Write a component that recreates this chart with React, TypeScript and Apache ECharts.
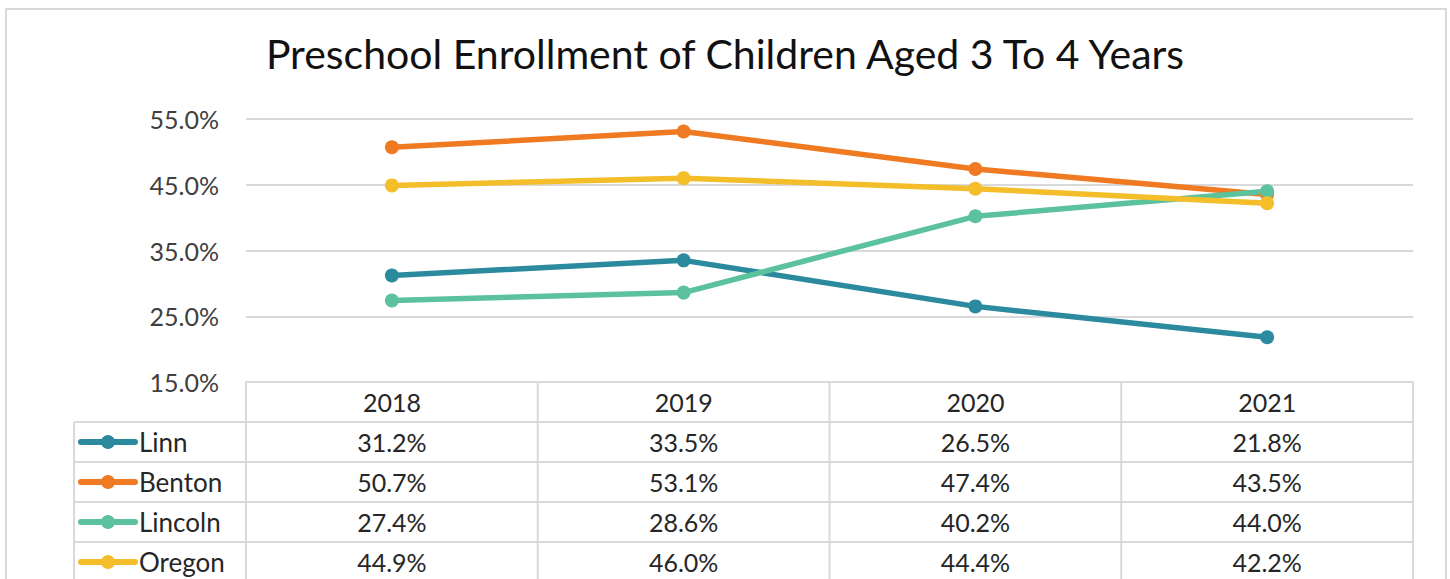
import React, { useEffect, useRef } from "react";
import * as echarts from "echarts";

const TITLE = "Preschool Enrollment of Children Aged 3 To 4 Years";
const YEARS = ["2018", "2019", "2020", "2021"];
const SERIES_NAMES = ["Linn", "Benton", "Lincoln", "Oregon"];
const LINN = [31.2, 33.5, 26.5, 21.8];
const BENTON = [50.7, 53.1, 47.4, 43.5];
const LINCOLN = [27.4, 28.6, 40.2, 44.0];
const OREGON = [44.9, 46.0, 44.4, 42.2];
const Y_MIN = 15;
const Y_MAX = 55;
const Y_STEP = 10;

const COLORS = ["#2B8A9E", "#F07A22", "#5CC29E", "#F4BE2A"];
const FONT = "Lato";

export default function App() {
  const ref = useRef<HTMLDivElement>(null);
  useEffect(() => {
    if (!ref.current) return;
    const W = 1450, H = 579;
    const chart = echarts.init(ref.current, undefined, { renderer: "svg", width: W, height: H });
    const gl = 246, gr = 1413, gt = 119, gb = 382;
    const values = [LINN, BENTON, LINCOLN, OREGON];
    const colW = (gr - gl) / YEARS.length;
    const headH = 40;
    const rowH = 40;
    const legL = 74;
    const lineColor = "#d9d9d9";
    const graphics: any[] = [];
    graphics.push({ type: "rect", shape: { x: 6, y: 9, width: 1440, height: 620 }, style: { fill: "none", stroke: lineColor, lineWidth: 2 }, silent: true });
    for (let i = 0; i <= YEARS.length; i++) {
      const x = gl + i * colW;
      graphics.push({ type: "line", shape: { x1: x, y1: gb, x2: x, y2: H + 20 }, style: { stroke: lineColor, lineWidth: 2 } });
    }
    graphics.push({ type: "line", shape: { x1: legL, y1: gb + headH, x2: legL, y2: H + 20 }, style: { stroke: lineColor, lineWidth: 2 } });
    for (let r = 0; r < SERIES_NAMES.length; r++) {
      const y = gb + headH + r * rowH;
      graphics.push({ type: "line", shape: { x1: legL, y1: y, x2: gr, y2: y }, style: { stroke: lineColor, lineWidth: 2 } });
      const cy = y + rowH / 2;
      graphics.push({ type: "line", shape: { x1: 81, y1: cy, x2: 135, y2: cy }, style: { stroke: COLORS[r], lineWidth: 6, lineCap: "round" } });
      graphics.push({ type: "circle", shape: { cx: 108, cy, r: 7 }, style: { fill: COLORS[r] } });
      graphics.push({ type: "text", x: 139, y: cy, style: { text: SERIES_NAMES[r], font: `26px ${FONT}`, fill: "#262626", textVerticalAlign: "middle", textAlign: "left" } });
      for (let c = 0; c < YEARS.length; c++) {
        graphics.push({ type: "text", x: gl + (c + 0.5) * colW, y: cy, style: { text: values[r][c].toFixed(1) + "%", font: `25px ${FONT}`, fill: "#262626", textVerticalAlign: "middle", textAlign: "center" } });
      }
    }
    chart.setOption({
      animation: false,
      backgroundColor: "#fff",
      title: {
        text: TITLE,
        left: "center",
        top: 28,
        textStyle: { fontFamily: FONT, fontSize: 41, fontWeight: "normal", color: "#111" },
      },
      grid: { left: gl, right: W - gr, top: gt, bottom: H - gb },
      xAxis: {
        type: "category",
        data: YEARS,
        boundaryGap: true,
        axisLine: { show: true, lineStyle: { color: lineColor, width: 2 } },
        axisTick: { show: false },
        axisLabel: { margin: 20, verticalAlign: "middle", fontFamily: FONT, fontSize: 25, color: "#262626", lineHeight: 25 },
      },
      yAxis: {
        type: "value",
        min: Y_MIN,
        max: Y_MAX,
        interval: Y_STEP,
        axisLine: { show: false },
        axisTick: { show: false },
        splitLine: { lineStyle: { color: lineColor, width: 2 } },
        axisLabel: { margin: 27, fontFamily: FONT, fontSize: 25, color: "#404040", formatter: (v: number) => v.toFixed(1) + "%" },
      },
      series: SERIES_NAMES.map((n, i) => ({
        name: n,
        type: "line",
        data: values[i],
        symbol: "circle",
        symbolSize: 14,
        lineStyle: { color: COLORS[i], width: 5.5 },
        itemStyle: { color: COLORS[i] },
        z: 3,
      })),
      graphic: graphics,
    });
    return () => chart.dispose();
  }, []);
  return <div ref={ref} style={{ position: "fixed", left: 0, top: 0, width: 1450, height: 579 }} />;
}
